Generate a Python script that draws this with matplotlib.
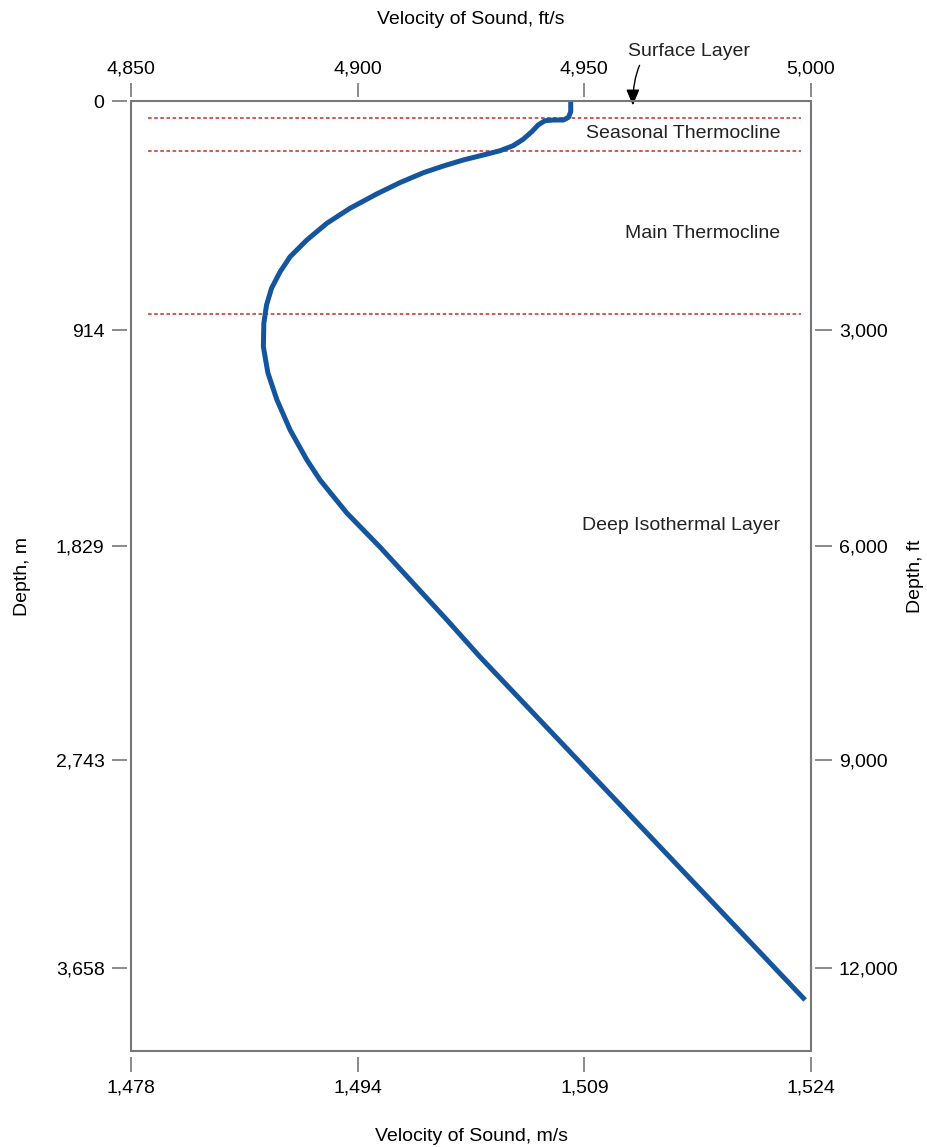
import numpy as np
import matplotlib.pyplot as plt
from matplotlib.patches import Rectangle

plt.rcParams['font.family'] = ['Liberation Sans', 'DejaVu Sans']

# sound velocity profile, velocity in ft/s, depth in ft (as drawn)
velocity = [4947.0, 4947.0, 4946.5, 4945.4, 4943.2, 4941.3, 4939.8, 4938.4,
            4936.5, 4934.3, 4931.4, 4927.7, 4923.3, 4918.9, 4914.5, 4909.3,
            4904.2, 4898.3, 4893.2, 4888.8, 4885.1, 4882.9, 4881.0, 4879.9,
            4879.3, 4879.2, 4879.7, 4880.2, 4882.2, 4885.1, 4888.8, 4891.7,
            4897.6, 4904.9, 4912.2, 4919.7, 4927.0, 4998.7]
depth = [0, 147, 224, 261, 261, 271, 330, 422,
         526, 614, 683, 742, 810, 893, 985, 1122,
         1277, 1474, 1680, 1909, 2139, 2345, 2573, 2802,
         3054, 3375, 3558, 3736, 4107, 4519, 4931, 5206,
         5659, 6126, 6621, 7129, 7637, 12349]

# layer boundaries (ft)
boundaries = [234, 687, 2926]

vel_ticks = [4850, 4900, 4950, 5000]
vel_ft_labels = ['4,850', '4,900', '4,950', '5,000']
vel_m_labels = ['1,478', '1,494', '1,509', '1,524']
# depth ticks where the original figure puts them
depth_ticks = [0, 3146, 6113, 9052, 11909]
depth_m_labels = ['0', '914', '1,829', '2,743', '3,658']
depth_ft_ticks = [3146, 6113, 9052, 11909]
depth_ft_labels = ['3,000', '6,000', '9,000', '12,000']

layer_names = ['Seasonal Thermocline', 'Main Thermocline', 'Deep Isothermal Layer']
layer_y = [450, 1825, 5835]

GRAY = '#777777'
FS = 14

fig = plt.figure(figsize=(9.27, 11.47), dpi=100)
ax = fig.add_axes([131/927, 1 - 1051/1147, 680/927, 950/1147])
axt = ax.twiny()
axr = ax.twinx()

for a in (ax, axt, axr):
    a.set_xlim(4850, 5000)
    a.set_ylim(13050, 0)
    for s in a.spines.values():
        s.set_position(('outward', 3))
        s.set_visible(False)
    a.tick_params(length=11, width=1.2, color=GRAY, labelsize=FS, pad=5)
ax.spines['bottom'].set_position(('outward', 4.5))

ax.add_patch(Rectangle((0, 0), 1, 1, transform=ax.transAxes, fill=False,
                       edgecolor=GRAY, linewidth=1.5, clip_on=False, zorder=5))

ax.set_xticks(vel_ticks)
ax.set_xticklabels(vel_m_labels)
ax.set_yticks(depth_ticks)
ax.set_yticklabels(depth_m_labels)
axt.set_xticks(vel_ticks)
axt.set_xticklabels(vel_ft_labels)
axt.tick_params(axis='x', length=10, pad=4)
axr.set_yticks(depth_ft_ticks)
axr.set_yticklabels(depth_ft_labels)
axr.tick_params(axis='y', length=12)

ax.set_xlabel('Velocity of Sound, m/s', fontsize=FS, labelpad=23)
ax.set_ylabel('Depth, m', fontsize=FS, labelpad=18)
axt.set_xlabel('Velocity of Sound, ft/s', fontsize=FS, labelpad=26)
axr.set_ylabel('Depth, ft', fontsize=FS, labelpad=6)

for b in boundaries:
    ax.axhline(b, xmin=0.025, xmax=0.985, color='#d24b4b', linestyle=(0, (2, 1.4)),
               linewidth=1.3, zorder=2)

ax.plot(velocity, depth, color='#15559e', linewidth=3.6,
        solid_capstyle='butt', solid_joinstyle='round', zorder=3)

for name, yy in zip(layer_names, layer_y):
    ax.text(4993.2, yy, name, ha='right', va='center', fontsize=FS, color='#222222')

ax.annotate('Surface Layer', xy=(4960.7, 60), xytext=(4973.0, -680),
            ha='center', va='center', fontsize=FS, color='#222222',
            annotation_clip=False,
            arrowprops=dict(arrowstyle='-|>,head_length=0.6,head_width=0.25',
                            color='black', lw=1.0,
                            mutation_scale=16, shrinkA=2, shrinkB=0,
                            relpos=(0.12, 0.0),
                            connectionstyle='angle3,angleA=60,angleB=90'))

fig.savefig('out.png', dpi=100)
